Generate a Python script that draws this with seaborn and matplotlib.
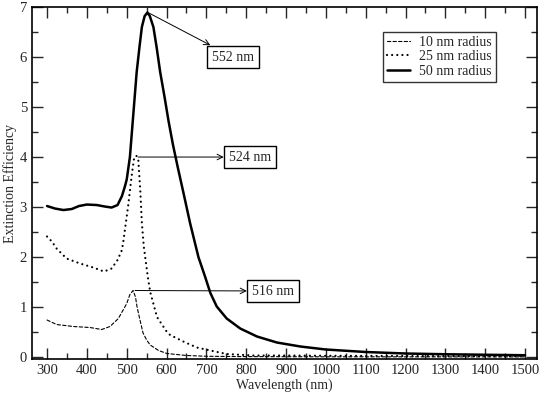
import matplotlib
matplotlib.use("Agg")
import matplotlib.pyplot as plt
from matplotlib.ticker import MultipleLocator
import seaborn as sns
import pandas as pd

# 10 nm radius (dashed)
wl_10 = [300, 324, 366, 408, 437, 458, 479, 491, 500, 508, 516, 522, 526, 533, 541, 550, 559, 580,
         601, 650, 700, 800, 1000, 1200, 1500]
ext_10 = [0.74, 0.65, 0.61, 0.59, 0.55, 0.61, 0.77, 0.94, 1.07, 1.25, 1.33, 1.20, 1.00, 0.75, 0.48,
          0.34, 0.24, 0.13, 0.07, 0.03, 0.015, 0.008, 0.004, 0.003, 0.002]

# 25 nm radius (dotted)
wl_25 = [300, 312, 324, 349, 383, 416, 443, 462, 477, 488, 492, 500, 504, 512, 518, 524, 529, 534,
         538, 543, 548, 553, 559, 576, 601, 609, 642, 676, 710, 751, 818, 900, 1000, 1200, 1500]
ext_25 = [2.41, 2.31, 2.17, 1.97, 1.87, 1.79, 1.71, 1.77, 1.94, 2.14, 2.34, 2.81, 3.05, 3.60, 3.95,
          4.03, 3.95, 3.34, 2.68, 2.20, 1.90, 1.60, 1.30, 0.80, 0.50, 0.44, 0.31, 0.19, 0.13, 0.06,
          0.03, 0.03, 0.025, 0.02, 0.015]

# 50 nm radius (solid)
wl_50 = [300, 320, 341, 362, 380, 400, 425, 445, 462, 477, 488, 495, 500, 508, 515, 525, 532, 538,
         545, 552, 558, 567, 575, 584, 595, 605, 616, 628, 642, 659, 680, 697, 710, 726, 751, 785,
         827, 877, 936, 1000, 1100, 1200, 1300, 1400, 1500]
ext_50 = [3.02, 2.97, 2.94, 2.96, 3.02, 3.05, 3.04, 3.01, 2.99, 3.04, 3.22, 3.40, 3.55, 4.00, 4.70,
          5.70, 6.20, 6.60, 6.82, 6.89, 6.82, 6.60, 6.20, 5.70, 5.20, 4.72, 4.25, 3.80, 3.30, 2.68,
          2.00, 1.60, 1.28, 1.01, 0.77, 0.57, 0.41, 0.29, 0.21, 0.15, 0.10, 0.07, 0.055, 0.045,
          0.035]

series_labels = ["10 nm radius", "25 nm radius", "50 nm radius"]
peak_labels = ["552 nm", "524 nm", "516 nm"]

sns.set_style("ticks")
plt.rcParams["font.family"] = ["Liberation Serif", "DejaVu Serif"]

fig = plt.figure(figsize=(5.41, 3.97), dpi=100)
ax = fig.add_axes([0.059, 0.0957, 0.9336, 0.8865])

df10 = pd.DataFrame({"wl": wl_10, "ext": ext_10})
df25 = pd.DataFrame({"wl": wl_25, "ext": ext_25})
df50 = pd.DataFrame({"wl": wl_50, "ext": ext_50})

sns.lineplot(data=df10, x="wl", y="ext", ax=ax, color="black", linewidth=0.8,
             linestyle=(0, (3, 2)), label=series_labels[0], estimator=None)
sns.lineplot(data=df25, x="wl", y="ext", ax=ax, color="black", linewidth=1.6,
             linestyle=(0, (0.01, 2.3)), label=series_labels[1], estimator=None)
sns.lineplot(data=df50, x="wl", y="ext", ax=ax, color="black", linewidth=1.8,
             linestyle="-", label=series_labels[2], estimator=None)
for ln in ax.get_lines():
    ln.set_dash_capstyle("round")
    ln.set_solid_joinstyle("round")

ax.set_xlim(262, 1530)
ax.set_ylim(-0.04, 7.0)
ax.xaxis.set_major_locator(MultipleLocator(100))
ax.xaxis.set_minor_locator(MultipleLocator(50))
ax.yaxis.set_major_locator(MultipleLocator(1))
ax.yaxis.set_minor_locator(MultipleLocator(0.5))
ax.tick_params(which="both", direction="in", top=True, right=True, labelsize=10.5, width=1.0)
ax.tick_params(which="major", length=8)
ax.tick_params(which="minor", length=4)
for s in ax.spines.values():
    s.set_linewidth(1.2)
    s.set_color("black")

ax.set_xlabel("Wavelength (nm)", fontsize=10, labelpad=1)
ax.set_ylabel("Extinction Efficiency", fontsize=10, labelpad=2)

# peak annotations, arrow runs from the peak to the label box
box_style = dict(boxstyle="square,pad=0.35", fc="white", ec="black", lw=1.0)
arrow_style = dict(arrowstyle="<-", color="black", lw=0.7, shrinkA=0, shrinkB=0)
ax.annotate(peak_labels[0], xy=(556, 6.88), xytext=(714, 6.0), fontsize=10,
            va="center", ha="left", bbox=box_style, arrowprops=arrow_style)
ax.annotate(peak_labels[1], xy=(529, 4.0), xytext=(757, 4.0), fontsize=10,
            va="center", ha="left", bbox=box_style, arrowprops=arrow_style)
ax.annotate(peak_labels[2], xy=(521, 1.33), xytext=(815, 1.32), fontsize=10,
            va="center", ha="left", bbox=box_style, arrowprops=arrow_style)

leg = ax.legend(loc="upper right", bbox_to_anchor=(0.918, 0.93), fontsize=10, frameon=True,
                fancybox=False, edgecolor="black", handlelength=1.7, handletextpad=0.6,
                borderpad=0.3, labelspacing=0.1, borderaxespad=0)
leg.get_frame().set_linewidth(1.0)

fig.savefig("out.png", dpi=100)
